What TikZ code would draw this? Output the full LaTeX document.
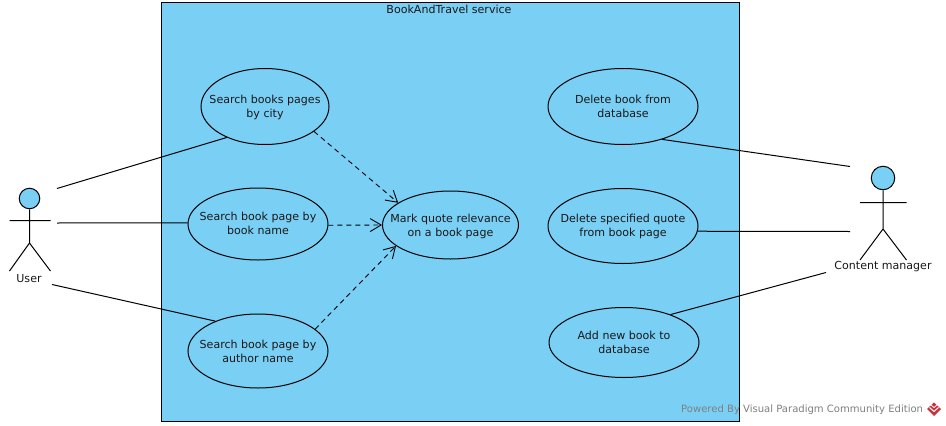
\documentclass[tikz,border=0pt]{standalone}
\usepackage{fontspec}
\setmainfont{DejaVu Sans}
\usetikzlibrary{shapes.geometric,arrows.meta}
\definecolor{vpblue}{RGB}{122,207,245}
\definecolor{vpred}{RGB}{200,50,60}
\newcommand\ucs{\rule{0pt}{10.4pt}}
\newcommand\ucd{\rule[-2pt]{0pt}{1pt}}
\tikzset{
  usecase/.style={ellipse,draw=black,line width=1pt,inner xsep=-28pt,inner ysep=0pt,align=center,font=\fontsize{11.05}{14}\selectfont,text=black!90},
  assoc/.style={draw=black,line width=1pt},
  incl/.style={draw=black,line width=0.9pt,dash pattern=on 5pt off 4pt,-{Straight Barb[length=11pt,width=13pt,line width=0.9pt]}},
  actorline/.style={draw=black,line width=1pt},
  actorhead/.style={circle,draw=black,fill=vpblue,line width=1pt,inner sep=0pt},
  lbl/.style={font=\fontsize{11.05}{14}\selectfont,text=black!90,inner sep=0pt}
}
\begin{document}
\begin{tikzpicture}[x=1pt,y=-1pt]
\useasboundingbox (0,0) rectangle (946,426);
\fill[white] (0,0) rectangle (946,426);
\node[draw=black,line width=1pt,fill=vpblue,minimum width=578pt,minimum height=419pt,inner sep=0pt,outer sep=0pt] (frame) at (450.5,211.5) {};
\node[lbl] (title) at (449,9) {BookAndTravel service};

\node[usecase,minimum width=128pt,minimum height=76pt] (a) at (265,106.5) {\ucs Search books pages\\by city};
\node[usecase,minimum width=140pt,minimum height=72pt] (b) at (258,224) {Search book page by\\book name\ucd};
\node[usecase,minimum width=140pt,minimum height=74pt] (c) at (258,351) {Search book page by\\author name};
\node[usecase,minimum width=136pt,minimum height=68pt] (m) at (450.5,225) {\ucs Mark quote relevance\\on a book page};
\node[usecase,minimum width=150pt,minimum height=76pt] (d) at (623,106.5) {Delete book from\\database};
\node[usecase,minimum width=150pt,minimum height=75pt] (e) at (623,226) {Delete specified quote\\from book page};
\node[usecase,minimum width=150pt,minimum height=70pt] (f) at (624,342.5) {Add new book to\\database};

% User actor
\node[actorhead,minimum size=20.5pt] (uhead) at (29.5,198.5) {};
\coordinate (uhip) at (29.5,243);
\coordinate (uarmL) at (9.5,220.5);
\coordinate (uarmR) at (50.5,220.5);
\coordinate (ulegL) at (9.5,271);
\coordinate (ulegR) at (50.5,271);
\draw[actorline] (uhead.south) -- (uhip) (uarmL) -- (uarmR) (ulegL) -- (uhip) -- (ulegR);
\node[lbl] (user) at (29,279) {User};

% Content manager actor
\node[actorhead,minimum size=23.5pt] (chead) at (883,178) {};
\coordinate (chip) at (883,229);
\coordinate (carmL) at (860,202.5);
\coordinate (carmR) at (906.5,202.5);
\coordinate (clegL) at (860,260);
\coordinate (clegR) at (906.5,260);
\draw[actorline] (chead.south) -- (chip) (carmL) -- (carmR) (clegL) -- (chip) -- (clegR);
\node[lbl] (cm) at (883,267) {Content manager};

% Associations
\coordinate (u1) at (57,188.5);
\coordinate (u2) at (57,223);
\coordinate (u3) at (52,284.5);
\coordinate (c1) at (850,166.5);
\coordinate (c2) at (850,231.5);
\coordinate (c3) at (826,272.5);
\draw[assoc] (u1) -- (a.219);
\draw[assoc] (u2) -- (b.179);
\draw[assoc] (u3) -- (c.145);
\draw[assoc] (c1) -- (d.-40);
\draw[assoc] (c2) -- (e.-4);
\draw[assoc] (c3) -- (f.31);

% Includes
\draw[incl] (a.-27) -- (m.157.6);
\draw[incl] (b.-1) -- (m.180);
\draw[incl] (c.21) -- (m.201);

% Watermark
\node[font=\fontsize{10.05}{12}\selectfont,text=black!50,inner sep=0pt,anchor=west] (wm) at (681,409.5) {Powered By Visual Paradigm Community Edition};
\fill[vpred] (934,402.5) -- (941,409) -- (934,416) -- (927,409) -- cycle;
\draw[white,line width=1pt] (929.5,407.5) -- (934,411.5) -- (938.5,407.5);
\draw[white,line width=0.8pt] (931,405) -- (934,407.5) -- (937,405);
\end{tikzpicture}
\end{document}
